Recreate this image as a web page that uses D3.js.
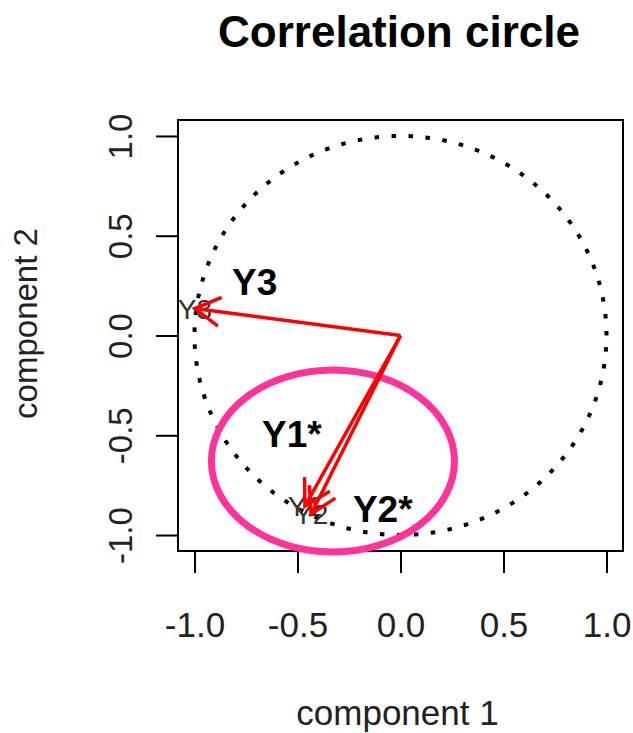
<!DOCTYPE html>
<html>
<head>
<meta charset="utf-8">
<script src="https://cdn.jsdelivr.net/npm/d3@7"></script>
<style>
  html, body { margin: 0; padding: 0; background: #fff; }
  svg { display: block; }
  text { font-family: "Liberation Sans", Arial, Helvetica, sans-serif; }
</style>
</head>
<body>
<svg id="chart" width="633" height="733"></svg>
<script>
// ---- data ----
const variables = ["Y1", "Y2", "Y3"];
const comp1 = [-0.464, -0.434, -0.998];
const comp2 = [-0.855, -0.895, 0.135];

const xTicks = [-1.0, -0.5, 0.0, 0.5, 1.0];
const yTicks = [-1.0, -0.5, 0.0, 0.5, 1.0];

const annotLabels = ["Y3", "Y1*", "Y2*"];
const annotX = [-0.818, -0.672, -0.231];
const annotY = [0.203, -0.559, -0.935];

const highlightEllipse = { cx: -0.328, cy: -0.629, rx: 0.590, ry: 0.456 };

const titleText = "Correlation circle";
const xTitle = "component 1";
const yTitle = "component 2";

// ---- layout ----
const svg = d3.select("#chart");
const plotLeft = 178, plotRight = 623, plotTop = 120, plotBottom = 551;

const x = d3.scaleLinear().domain([-1.08, 1.08]).range([plotLeft, plotRight]);
const y = d3.scaleLinear().domain([-1.08, 1.08]).range([plotBottom, plotTop]);

const fmt = d3.formatLocale({decimal: ".", thousands: ",", grouping: [3], currency: ["", ""], minus: "-"}).format(".1f");

// title
svg.append("text")
  .attr("x", 399).attr("y", 47)
  .attr("text-anchor", "middle")
  .attr("font-size", 44).attr("font-weight", "bold")
  .attr("textLength", 362).attr("lengthAdjust", "spacingAndGlyphs")
  .text(titleText);

// x axis
const xAxis = svg.append("g")
  .attr("transform", `translate(0,${plotBottom})`)
  .call(d3.axisBottom(x).tickValues(xTicks).tickSize(22).tickFormat(fmt));
xAxis.select(".domain").remove();
xAxis.selectAll(".tick line").attr("stroke", "#000").attr("stroke-width", 2);
xAxis.selectAll(".tick text")
  .attr("y", 86).attr("dy", null)
  .attr("font-size", 35).attr("fill", "#222")
  .attr("font-family", "'Liberation Sans', Arial, sans-serif");

// y axis
const yAxis = svg.append("g")
  .attr("transform", `translate(${plotLeft},0)`)
  .call(d3.axisLeft(y).tickValues(yTicks).tickSize(22).tickFormat(fmt));
yAxis.select(".domain").remove();
yAxis.selectAll(".tick line").attr("stroke", "#000").attr("stroke-width", 2);
yAxis.selectAll(".tick text")
  .attr("x", 0).attr("y", 0).attr("dy", null)
  .attr("text-anchor", "middle")
  .attr("transform", "translate(-46,0) rotate(-90)")
  .attr("font-size", 33).attr("fill", "#222")
  .attr("font-family", "'Liberation Sans', Arial, sans-serif");

// axis titles
svg.append("text")
  .attr("x", 397.5).attr("y", 725)
  .attr("text-anchor", "middle")
  .attr("font-size", 35).attr("fill", "#222")
  .text(xTitle);
svg.append("text")
  .attr("transform", "translate(37,323.5) rotate(-90)")
  .attr("text-anchor", "middle")
  .attr("font-size", 33).attr("fill", "#222")
  .text(yTitle);

// box
svg.append("rect")
  .attr("x", plotLeft).attr("y", plotTop)
  .attr("width", plotRight - plotLeft).attr("height", plotBottom - plotTop)
  .attr("fill", "none").attr("stroke", "#000").attr("stroke-width", 2);

// dotted unit circle
const angles = d3.range(0, 361, 1);
const circleLine = d3.line()
  .x(a => x(Math.cos(a * Math.PI / 180)))
  .y(a => y(Math.sin(a * Math.PI / 180)));
svg.append("path")
  .attr("d", circleLine(angles))
  .attr("fill", "none").attr("stroke", "#000")
  .attr("stroke-width", 4).attr("stroke-dasharray", "4.5 12.5");

// variable labels (at tips)
svg.selectAll("text.varlab")
  .data(variables)
  .join("text")
  .attr("class", "varlab")
  .attr("x", (d, i) => x(comp1[i]))
  .attr("y", (d, i) => y(comp2[i]))
  .attr("dy", "0.36em")
  .attr("text-anchor", "middle")
  .attr("font-size", 28).attr("fill", "#333")
  .text(d => d);

// highlight ellipse
svg.append("ellipse")
  .attr("cx", x(highlightEllipse.cx)).attr("cy", y(highlightEllipse.cy))
  .attr("rx", x(highlightEllipse.rx) - x(0)).attr("ry", y(0) - y(highlightEllipse.ry))
  .attr("fill", "none").attr("stroke", "#ff3399").attr("stroke-width", 7);

// arrows
const headLen = 29, headAng = Math.PI / 6;
const arrows = svg.append("g").attr("stroke", "#ff0000").attr("stroke-width", 3.5).attr("fill", "none");
variables.forEach((v, i) => {
  const x0 = x(0), y0 = y(0), x1 = x(comp1[i]), y1 = y(comp2[i]);
  const ang = Math.atan2(y1 - y0, x1 - x0);
  const h1 = [x1 - headLen * Math.cos(ang - headAng), y1 - headLen * Math.sin(ang - headAng)];
  const h2 = [x1 - headLen * Math.cos(ang + headAng), y1 - headLen * Math.sin(ang + headAng)];
  arrows.append("line").attr("x1", x0).attr("y1", y0).attr("x2", x1).attr("y2", y1);
  arrows.append("path").attr("d", `M${h1[0]},${h1[1]}L${x1},${y1}L${h2[0]},${h2[1]}`);
});

// bold annotations
svg.selectAll("text.annot")
  .data(annotLabels)
  .join("text")
  .attr("class", "annot")
  .attr("x", (d, i) => x(annotX[i]))
  .attr("y", (d, i) => y(annotY[i]))
  .attr("font-size", 37).attr("font-weight", "bold").attr("fill", "#000")
  .text(d => d);
</script>
</body>
</html>
